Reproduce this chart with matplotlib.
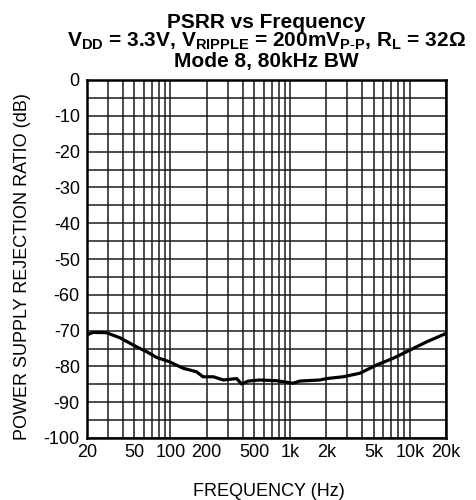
import numpy as np
import matplotlib
matplotlib.use("Agg")
import matplotlib.pyplot as plt

plt.rcParams["font.family"] = ["Liberation Sans", "DejaVu Sans"]
plt.rcParams["mathtext.fontset"] = "custom"
plt.rcParams["mathtext.rm"] = "Liberation Sans"
plt.rcParams["mathtext.bf"] = "Liberation Sans:bold"
plt.rcParams["mathtext.default"] = "bf"

# PSRR curve
freq_hz = [20, 22.6, 29.2, 37.8, 51.9, 63.3, 76.5, 98, 127, 165, 187, 228, 277,
           357, 392, 446, 558, 769, 1054, 1202, 1767, 2009, 2770, 3822, 5276,
           7281, 10050, 13870, 20000]
psrr_db = [-71.2, -70.5, -70.6, -72.0, -74.5, -75.9, -77.5, -78.7, -80.5, -81.5,
           -82.9, -82.9, -83.8, -83.4, -84.9, -84.1, -83.8, -84.0, -84.7, -84.1,
           -83.8, -83.4, -82.9, -81.9, -79.6, -77.7, -75.4, -73.1, -70.8]

x_tick_pos = [20, 50, 100, 200, 500, 1000, 2000, 5000, 10000, 20000]
x_tick_labels = ["20", "50", "100", "200", "500", "1k", "2k", "5k", "10k", "20k"]
y_ticks = list(range(-100, 1, 10))

fig = plt.figure(figsize=(4.77, 5.0), dpi=100)
ax = fig.add_axes([0.182, 0.124, 0.753, 0.716])

ax.plot(freq_hz, psrr_db, color="black", lw=2.3, solid_joinstyle="round")

ax.set_xscale("log")
ax.set_xlim(20, 20000)
ax.set_ylim(-100, 0)

grid_x = [m * 10 ** d for d in range(1, 5) for m in range(1, 10)]
grid_x = [g for g in grid_x if 20 < g < 20000]
ax.set_xticks(grid_x, minor=True)
ax.set_xticks(x_tick_pos)
ax.set_xticklabels(x_tick_labels)
ax.xaxis.set_minor_formatter(plt.NullFormatter())
ax.set_yticks(y_ticks)
ax.set_yticks(list(range(-95, 0, 10)), minor=True)
ax.set_yticklabels([str(v) for v in y_ticks])

ax.grid(True, which="both", color="#1a1a1a", lw=1.1)
ax.tick_params(which="both", length=0, labelsize=13)
ax.tick_params(axis="y", pad=5)
ax.tick_params(axis="x", pad=4)
for s in ax.spines.values():
    s.set_linewidth(1.8)

ax.set_xlabel("FREQUENCY (Hz)", fontsize=13)
ax.xaxis.set_label_coords(0.508, -0.126)
ax.set_ylabel("POWER SUPPLY REJECTION RATIO (dB)", fontsize=13)
ax.yaxis.set_label_coords(-0.156, 0.48)

cx = 0.182 + 0.753 / 2
fig.text(cx, 1 - 28 / 500, "PSRR vs Frequency", ha="center", va="baseline",
         fontsize=15, fontweight="bold")
fig.text(cx, 1 - 47 / 500,
         r"$V_{DD}$ = 3.3V, $V_{RIPPLE}$ = 200m$V_{P\text{-}P}$, $R_L$ = 32$\Omega$",
         ha="center", va="baseline", fontsize=15, fontweight="bold")
fig.text(cx, 1 - 67 / 500, "Mode 8, 80kHz BW", ha="center", va="baseline",
         fontsize=15, fontweight="bold")

fig.savefig("out.png", dpi=100)
